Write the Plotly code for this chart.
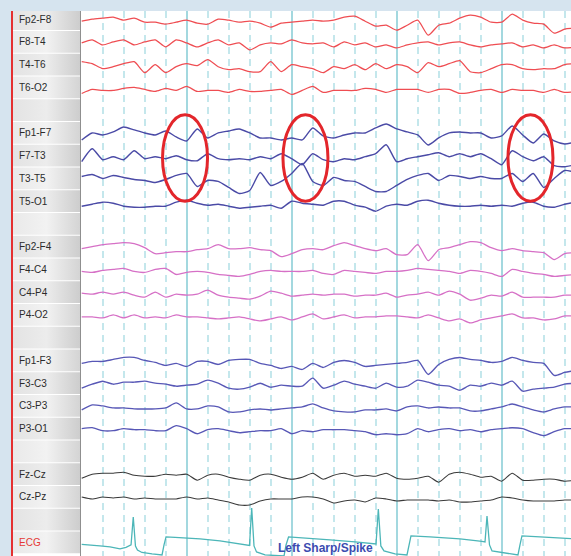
import plotly.graph_objects as go

# ------------------------------------------------------------------ data
SAMPLE_TIMES_S = [0.0, 0.1, 0.2, 0.3, 0.4, 0.5, 0.6, 0.7, 0.8, 0.9,
                  1.0, 1.1, 1.2, 1.3, 1.4, 1.5, 1.6, 1.7, 1.8, 1.9,
                  2.0, 2.1, 2.2, 2.3, 2.4, 2.5, 2.6, 2.7, 2.8, 2.9,
                  3.0, 3.1, 3.2, 3.3, 3.4, 3.5, 3.6, 3.7, 3.8, 3.9,
                  4.0, 4.1, 4.2, 4.3, 4.4, 4.5, 4.6, 4.7]

FP2_F8 = [-2, 0, 1, 2, -1, 1, -3, -3, -5, -3, -1, -4, -5, 0, -1, -3, -2, -4, -8, -4,
          -3, -2, -1, -2, -1, 2, 3, -2, -7, -6, -11, -6, -1, -16, -6, -4, 1, 4, 2, -3,
          -3, 5, -1, -4, -5, -14, -10, -9]
F8_T4 = [-1, 2, -3, 0, 2, -3, 0, 2, -5, 2, -1, -5, -1, 2, -3, -1, -8, -3, -1, -2,
         2, -1, -2, -1, -5, 0, -3, -1, -5, -3, -6, -3, -1, 0, -3, -1, 0, -3, -5, -3,
         -2, -1, -5, -3, -6, -3, -6, -5]
T4_T6 = [3, 1, -4, -2, 1, 3, -8, 0, -8, -2, 1, -1, 5, -2, -5, -4, -7, -7, 3, -7,
         0, -2, -4, -8, -2, -4, 0, -5, 1, -4, 0, -2, -8, 2, -2, 1, 4, -7, -8, -4,
         0, 0, -4, -5, -4, -4, 0, 1]
T6_O2 = [-6, -2, -3, -3, -1, 0, -2, -4, -1, -3, 1, -4, -3, -3, -5, -2, -4, -4, -3, -2,
         -7, -3, 1, -5, -3, -3, -3, -1, -2, -5, -2, -2, -2, -5, -2, -2, -6, -5, -3, -2,
         -5, -2, -3, -3, -5, -2, -5, -4]
FP1_F7 = [-7, 0, -2, 1, 6, 3, 0, -2, 2, -4, -8, 4, -5, 0, 2, 4, 0, -5, -5, -7,
          -5, -7, 5, -3, -5, -2, 0, 0, 5, 9, 4, 1, -2, -12, -5, 0, 1, 0, 0, -5,
          -3, 7, -2, -10, -1, -8, -11, -9]
F7_T3 = [-6, 7, -4, -1, -4, 5, -3, -1, -3, 0, -4, -5, 2, -3, -4, -3, -4, -1, -3, 2,
         -3, -9, 2, -4, -6, -3, -4, -1, 2, 11, -6, -3, -1, 1, 3, -1, 2, -1, 2, -3,
         -9, 5, -1, -5, -1, -10, -11, -9]
T3_T5 = [2, 4, 0, 3, 1, -1, -2, -4, -1, 3, 5, -8, -2, -3, -9, -15, -12, 6, -7, -3,
         5, 15, -3, -7, 1, -2, -3, -8, -13, -13, -7, -1, 3, 5, -2, 3, 2, 0, 2, 0,
         0, 5, -3, 5, -9, 0, 8, 6]
T5_O1 = [-5, -3, -1, -2, -5, -6, -6, -5, -5, -1, 1, -2, -4, -3, -5, -7, -6, -5, -4, -7,
         0, -2, -3, -4, 0, 0, -4, -6, -10, -5, -3, -4, 0, 1, -2, -4, -5, -5, -4, -5,
         -4, -5, -2, -1, -5, -6, -3, -1]
FP2_F4 = [-2, 0, 2, 3, 4, 3, -1, -7, -6, -5, -5, -3, -2, 2, -2, -2, -1, -3, -4, -10,
          -7, -3, -2, -3, 1, 4, 1, -2, -4, -2, -8, -8, 2, -14, -3, -1, 2, 5, 4, -1,
          -4, -2, -4, -5, -6, -13, -7, -6]
F4_C4 = [-2, -3, -1, 0, 1, -2, -3, 0, 1, -5, -3, -2, -3, -5, -6, -7, -5, -2, -1, -2,
         -2, -2, -1, -4, -5, -1, -2, -3, -4, -2, -2, -1, 1, 0, -1, -2, -4, -1, -2, -4,
         -7, 0, -2, -4, -5, -7, -6, -5]
C4_P4 = [-1, -2, 0, -2, 0, -3, -5, 0, -5, -2, -3, -2, 2, -3, -5, -6, -7, -4, 1, -1,
         -4, -3, -2, -3, -2, -2, -4, -3, -3, -1, -5, -3, -2, 0, -3, 1, -2, -8, -6, -3,
         -4, 0, -5, -5, -5, -5, -3, -3]
P4_O2 = [-2, -2, -3, 0, -3, 0, -3, -2, -3, 0, -2, -2, -3, -4, -3, -2, -4, -6, -4, -2,
         -5, -2, 1, -4, -2, 0, -3, -2, -2, -1, -1, -2, -3, 0, -3, -6, -4, -8, -5, -3,
         -1, 1, -3, -3, -5, -4, -1, -1]
FP1_F3 = [-3, -1, -1, 1, 3, 3, 0, -2, -5, -3, -6, -1, -1, -4, 0, 1, 1, -3, -5, -8,
          -6, -9, -3, -7, -2, 0, -2, -6, -5, -4, -3, -2, 0, -14, -4, 1, 3, 1, 0, -2,
          -1, 3, 0, -2, -3, -15, -12, -10]
F3_C3 = [-5, -1, 2, -1, 1, 1, 2, 0, -1, -3, -2, -1, 3, 0, -5, -6, -4, 0, -4, -2,
         -3, -3, 5, -5, -2, 2, -1, -3, -5, 0, -4, -3, 3, 1, -2, -3, -7, -2, -3, 0,
         -2, 2, -8, -6, -5, -4, -1, 0]
C3_P3 = [-4, 1, 0, -2, -2, -3, -3, -3, -2, 3, -3, -3, 0, -1, -6, -6, -4, -3, -4, -3,
         -2, -1, 2, -2, -5, -6, -6, -4, -4, -3, -5, -1, 0, -2, -1, -2, -2, -5, -5, -3,
         -1, 2, -1, -4, -6, -3, -1, -1]
P3_O1 = [0, 1, -2, -2, 0, -1, -1, -2, -2, 3, 0, -5, -1, 0, -2, -4, -3, -2, -2, 0,
         -5, -2, -3, -1, -1, -1, -2, -3, -6, -5, -6, -5, 0, -3, -1, 0, -2, -1, -3, -1,
         0, 1, 0, -4, -7, -3, 0, 0]
FZ_CZ = [-4, 0, 1, 1, 2, -1, -2, -2, 0, -1, 0, -6, -1, 0, -3, -5, -6, -1, 0, -3,
         -5, -3, 1, -5, -1, 1, -2, -1, -2, 1, -4, -5, -4, -2, -8, 0, 2, 0, -3, -2,
         -7, 1, -6, -6, -5, -5, -7, -6]
CZ_PZ = [0, -2, 0, -1, 0, -2, -1, -2, -2, -2, 0, -2, -1, -3, -5, -8, -8, -4, -2, -2,
         -2, 0, 0, -2, -6, -4, -3, -5, -1, -2, -4, -3, -3, -3, -4, -3, -5, -5, -4, -3,
         0, -1, -3, -4, -4, -4, -3, -3]

ECG_TIMES_S = [0.000, 0.079, 0.174, 0.270, 0.365, 0.422, 0.470, 0.491, 0.512, 0.531,
               0.574, 0.670, 0.765, 0.784, 0.803, 0.889, 1.127, 1.317, 1.460, 1.565,
               1.598, 1.619, 1.641, 1.665, 1.746, 1.927, 1.946, 1.970, 2.079, 2.365,
               2.603, 2.765, 2.803, 2.825, 2.849, 2.879, 2.984, 3.098, 3.117, 3.136,
               3.317, 3.603, 3.812, 3.841, 3.860, 3.884, 3.908, 4.032, 4.155, 4.174,
               4.193, 4.365, 4.555, 4.698]
ECG_VALUES = [-2, -2.5, -3.5, -4.5, -6.5, -5, -2.5, 25.5, -3.5, -7.5,
              -10, -11.5, -12.5, -2.5, 5.5, 5, 3.5, 1.5, -0.5, -2.5,
              -3, 34.5, -3.5, -9.5, -12.5, -13.5, -2.5, 5.5, 4.5, 2.5,
              0.5, -1, -1.5, 33.5, -3.5, -8.5, -11.5, -12.5, -2.5, 6.5,
              5.5, 3.5, 1, 0.5, 26.5, -2.5, -8.5, -10.5, -12.5, -2.5,
              6.5, 5.5, 4.5, 3.5]

CHANNEL_NAMES = ["Fp2-F8", "F8-T4", "T4-T6", "T6-O2",
                 "Fp1-F7", "F7-T3", "T3-T5", "T5-O1",
                 "Fp2-F4", "F4-C4", "C4-P4", "P4-O2",
                 "Fp1-F3", "F3-C3", "C3-P3", "P3-O1",
                 "Fz-Cz", "Cz-Pz"]
CHANNEL_ROWS = [0, 1, 2, 3, 5, 6, 7, 8, 10, 11, 12, 13, 15, 16, 17, 18, 20, 21]
CHANNEL_SIGNALS = [FP2_F8, F8_T4, T4_T6, T6_O2,
                   FP1_F7, F7_T3, T3_T5, T5_O1,
                   FP2_F4, F4_C4, C4_P4, P4_O2,
                   FP1_F3, F3_C3, C3_P3, P3_O1,
                   FZ_CZ, CZ_PZ]
ECG_NAME = "ECG"
ECG_ROW = 23

SPIKE_TIMES_S = [0.984, 2.131, 4.274]
SPIKE_LABEL = "Left Sharp/Spike"

# ------------------------------------------------------------------ style
GROUP_COLORS = ["#ef4d52"] * 4 + ["#4a4aa6"] * 4 + ["#d670c6"] * 4 + ["#5757b6"] * 4 + ["#3a3a3a"] * 2
GROUP_WIDTHS = [1.25] * 4 + [1.4] * 4 + [1.3] * 4 + [1.35] * 4 + [1.05] * 2
ECG_COLOR = "#4cb6b8"

W, H = 571, 556
TOP_PX = 11
PANEL_LEFT_PX, PANEL_RIGHT_PX = 13, 80
PLOT_LEFT_PX = 81
T0_PX = 81.7
PX_PER_S = 105.0
FIRST_ROW_PX = 19.2
ROW_PX = 22.75
N_ROWS = 24
FONT = "Liberation Sans, Arial, sans-serif"


def row_center(r):
    return -(FIRST_ROW_PX + ROW_PX * r)


fig = go.Figure()

# label panel bands (gradient)
for r in range(N_ROWS):
    yc = row_center(r)
    y_top = yc + ROW_PX / 2 - 0.5
    y_bot = yc - ROW_PX / 2 + 0.5
    if r % 2 == 0:
        cs = [[0, "#e3e3e3"], [0.5, "#ececec"], [1, "#cdcdcd"]]
    else:
        cs = [[0, "#e9e9e9"], [0.5, "#f2f2f2"], [1, "#d4d4d4"]]
    fig.add_trace(go.Scatter(
        x=[0, 1, 1, 0, 0], y=[y_bot, y_bot, y_top, y_top, y_bot],
        mode="lines", fill="toself", line=dict(width=0),
        fillgradient=dict(type="horizontal", colorscale=cs),
        xaxis="x2", yaxis="y", hoverinfo="skip", showlegend=False))

# EEG traces
for name, row, sig, col, lw in zip(CHANNEL_NAMES, CHANNEL_ROWS, CHANNEL_SIGNALS,
                                   GROUP_COLORS, GROUP_WIDTHS):
    fig.add_trace(go.Scatter(
        x=SAMPLE_TIMES_S, y=[row_center(row) + v for v in sig],
        mode="lines", line=dict(color=col, width=lw, shape="spline", smoothing=0.6),
        name=name, hoverinfo="skip", showlegend=False))

fig.add_trace(go.Scatter(
    x=ECG_TIMES_S, y=[row_center(ECG_ROW) + v for v in ECG_VALUES],
    mode="lines", line=dict(color=ECG_COLOR, width=1.3),
    name=ECG_NAME, hoverinfo="skip", showlegend=False))

# y ticks (small scale marks per channel)
tickvals = []
for row in CHANNEL_ROWS + [ECG_ROW]:
    for off in (-6, -3, 0, 3, 6):
        tickvals.append(row_center(row) + off)

shapes = [dict(type="line", xref="paper", yref="paper", x0=12 / W, x1=12 / W,
               y0=0, y1=1, line=dict(color="#e53030", width=2))]
hw = 22.5 / PX_PER_S
for t in SPIKE_TIMES_S:
    shapes.append(dict(type="circle", xref="x", yref="y",
                       x0=t - hw, x1=t + hw,
                       y0=row_center(7) - 1.0 * ROW_PX,
                       y1=row_center(5) + 0.8 * ROW_PX,
                       line=dict(color="#e3262b", width=3), layer="above"))

annotations = []
for name, row in zip(CHANNEL_NAMES + [ECG_NAME], CHANNEL_ROWS + [ECG_ROW]):
    annotations.append(dict(
        xref="x2", yref="y", x=0.064, y=row_center(row), xanchor="left", yanchor="middle",
        text=name, showarrow=False,
        font=dict(family=FONT, size=10, color="#e53935" if name == ECG_NAME else "#2b2b2b")))
annotations.append(dict(
    xref="x", yref="y", x=(325.5 - T0_PX) / PX_PER_S, y=-548.0, xanchor="center", yanchor="middle",
    text="<b>" + SPIKE_LABEL + "</b>", showarrow=False,
    font=dict(family=FONT, size=12, color="#3b4bb0")))

fig.update_layout(
    width=W, height=H, margin=dict(l=0, r=0, t=TOP_PX, b=0),
    paper_bgcolor="#d6e4ef", plot_bgcolor="#ffffff", showlegend=False,
    xaxis=dict(domain=[PLOT_LEFT_PX / W, 1],
               range=[(PLOT_LEFT_PX - T0_PX) / PX_PER_S, (W - T0_PX) / PX_PER_S],
               tick0=0, dtick=1, showgrid=True, gridcolor="#a3d8df", gridwidth=1.5,
               minor=dict(tick0=0, dtick=0.2, showgrid=True, gridcolor="#c4e7ec",
                          gridwidth=1.5, griddash="7px,5px"),
               zeroline=False, showticklabels=False, ticks="", showline=False,
               fixedrange=True, anchor="y"),
    xaxis2=dict(domain=[PANEL_LEFT_PX / W, PANEL_RIGHT_PX / W], range=[0, 1],
                visible=False, anchor="y", fixedrange=True),
    yaxis=dict(range=[-H, -TOP_PX], showgrid=False, zeroline=False, showline=True,
               linecolor="#8f8f8f", linewidth=1, ticks="outside", ticklen=3,
               tickcolor="#6f6f6f", tickwidth=1, tickvals=tickvals,
               showticklabels=False, anchor="x", fixedrange=True),
    shapes=shapes, annotations=annotations,
)

fig.write_html("out.html", config={"displayModeBar": False},
               post_script="document.body.style.margin='0';document.body.style.overflow='hidden';")
